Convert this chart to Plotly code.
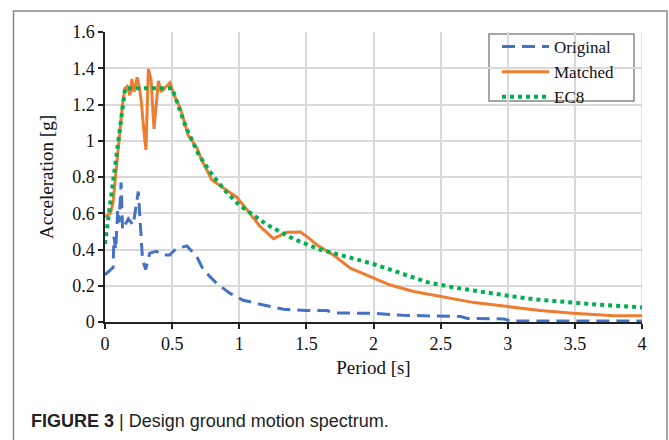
import plotly.graph_objects as go

# ---- data ----
orig_T = [0.0, 0.04, 0.06, 0.067, 0.08, 0.095, 0.105, 0.12, 0.131, 0.174, 0.21, 0.248,
          0.258, 0.28, 0.303, 0.333, 0.383, 0.44, 0.482, 0.53, 0.61, 0.684, 0.733, 0.83,
          0.932, 1.03, 1.18, 1.33, 1.5, 1.65, 1.72, 2.0, 2.22, 2.5, 2.65, 2.7, 2.97, 3.02, 4.0]
orig_A = [0.26, 0.29, 0.30, 0.47, 0.40, 0.62, 0.55, 0.77, 0.51, 0.57, 0.535, 0.72,
          0.59, 0.34, 0.29, 0.38, 0.39, 0.37, 0.37, 0.405, 0.42, 0.36, 0.287, 0.214,
          0.158, 0.12, 0.094, 0.07, 0.063, 0.063, 0.05, 0.048, 0.037, 0.03, 0.03, 0.02, 0.017, 0.006, 0.006]

match_T = [0.0, 0.04, 0.06, 0.075, 0.1, 0.117, 0.13, 0.149, 0.165, 0.186, 0.2, 0.216,
           0.24, 0.257, 0.27, 0.29, 0.305, 0.323, 0.343, 0.365, 0.398, 0.418, 0.447, 0.484,
           0.51, 0.56, 0.62, 0.684, 0.72, 0.795, 0.88, 0.98, 1.057, 1.155, 1.255, 1.355,
           1.455, 1.504, 1.58, 1.70, 1.827, 2.0, 2.125, 2.3, 2.5, 2.75, 3.0, 3.24, 3.49, 3.79, 4.0]
match_A = [0.58, 0.60, 0.66, 0.78, 0.97, 1.09, 1.20, 1.29, 1.30, 1.25, 1.34, 1.27,
           1.35, 1.29, 1.22, 1.05, 0.95, 1.396, 1.337, 1.065, 1.33, 1.27, 1.29, 1.32,
           1.26, 1.18, 1.03, 0.96, 0.895, 0.785, 0.74, 0.69, 0.62, 0.527, 0.46, 0.495,
           0.497, 0.471, 0.425, 0.37, 0.297, 0.241, 0.204, 0.168, 0.14, 0.107, 0.085, 0.063, 0.048, 0.035, 0.035]

ec8_T = [0.0, 0.05, 0.1, 0.15, 0.2, 0.3, 0.4, 0.5, 0.6, 0.7, 0.8, 0.9, 1.0, 1.1, 1.2,
         1.3, 1.4, 1.5, 1.6, 1.7, 1.8, 1.9, 2.0, 2.2, 2.4, 2.6, 2.8, 3.0, 3.2, 3.4, 3.6, 3.8, 4.0]
ec8_A = [0.43, 0.72, 1.0, 1.29, 1.29, 1.29, 1.29, 1.29, 1.08, 0.92, 0.81, 0.72, 0.645, 0.59, 0.54,
         0.50, 0.46, 0.43, 0.40, 0.38, 0.36, 0.34, 0.32, 0.27, 0.22, 0.19, 0.165, 0.145, 0.125, 0.11, 0.10, 0.09, 0.08]

x_ticks = [0, 0.5, 1, 1.5, 2, 2.5, 3, 3.5, 4]
x_tick_labels = ["0", "0.5", "1", "1.5", "2", "2.5", "3", "3.5", "4"]
y_ticks = [0, 0.2, 0.4, 0.6, 0.8, 1.0, 1.2, 1.4, 1.6]
y_tick_labels = ["0", "0.2", "0.4", "0.6", "0.8", "1", "1.2", "1.4", "1.6"]

SERIF = "Liberation Serif, Times New Roman, serif"
PL, PR, PT, PB = 105, 642, 32, 322
PW, PH = PR - PL, PB - PT


def px(x):
    return (x - PL) / PW


def py(y):
    return (PB - y) / PH


fig = go.Figure()
fig.add_trace(go.Scatter(x=orig_T, y=orig_A, mode="lines", name="Original",
                         line=dict(color="#4472C4", width=3, dash="13px,7px")))
fig.add_trace(go.Scatter(x=match_T, y=match_A, mode="lines", name="Matched",
                         line=dict(color="#ED7D31", width=3)))
fig.add_trace(go.Scatter(x=ec8_T, y=ec8_A, mode="lines", name="EC8",
                         line=dict(color="#00B050", width=4, dash="4px,4px")))

fig.update_layout(
    width=669, height=440,
    margin=dict(l=PL, r=669 - PR, t=PT, b=440 - PB),
    paper_bgcolor="white", plot_bgcolor="white",
    font=dict(family=SERIF, size=18, color="#111"),
    showlegend=True,
    legend=dict(x=px(497), y=py(29), xanchor="left", yanchor="top",
                bgcolor="rgba(0,0,0,0)", borderwidth=0,
                font=dict(family=SERIF, size=17, color="#111"),
                itemwidth=47, tracegroupgap=0),
    xaxis=dict(range=[0, 4], tickvals=x_ticks, ticktext=x_tick_labels,
               showgrid=True, gridcolor="#d9d9d9", gridwidth=1.5,
               showline=True, linecolor="#222", linewidth=1.5,
               ticks="outside", ticklen=5, tickcolor="#222", tickwidth=1.5,
               zeroline=False, fixedrange=True,
               title=dict(text="Period [s]", font=dict(family=SERIF, size=19), standoff=7),
               tickfont=dict(family=SERIF, size=18)),
    yaxis=dict(range=[0, 1.6], tickvals=y_ticks, ticktext=y_tick_labels,
               showgrid=True, gridcolor="#d9d9d9", gridwidth=1.5,
               showline=True, linecolor="#222", linewidth=1.5,
               ticks="outside", ticklen=5, tickcolor="#222", tickwidth=1.5,
               zeroline=False, fixedrange=True,
               title=dict(text="Acceleration [g]", font=dict(family=SERIF, size=19), standoff=14),
               tickfont=dict(family=SERIF, size=18)),
)

# right grid border
fig.add_shape(type="line", xref="x", yref="paper", x0=4, x1=4, y0=0, y1=1,
              line=dict(color="#d9d9d9", width=1.5), layer="below")

# legend box
fig.add_shape(type="rect", xref="paper", yref="paper",
              x0=px(489), x1=px(634), y0=py(101), y1=py(34),
              line=dict(color="#888", width=1.5), fillcolor="white", layer="below")

# outer frame of the figure panel
fig.add_shape(type="rect", xref="paper", yref="paper",
              x0=px(13.5), x1=px(667), y0=py(460), y1=py(11),
              line=dict(color="#888", width=1.5), fillcolor="rgba(0,0,0,0)")

# caption
fig.add_annotation(xref="paper", yref="paper",
                   x=px(29), y=py(421),
                   xanchor="left", yanchor="middle", showarrow=False,
                   text="<b>FIGURE 3</b> | Design ground motion spectrum.",
                   font=dict(family="Liberation Sans, Arial, sans-serif", size=18, color="#222"))

fig.write_html("out.html", config={"displayModeBar": False},
               post_script="document.body.style.margin='0px';")
